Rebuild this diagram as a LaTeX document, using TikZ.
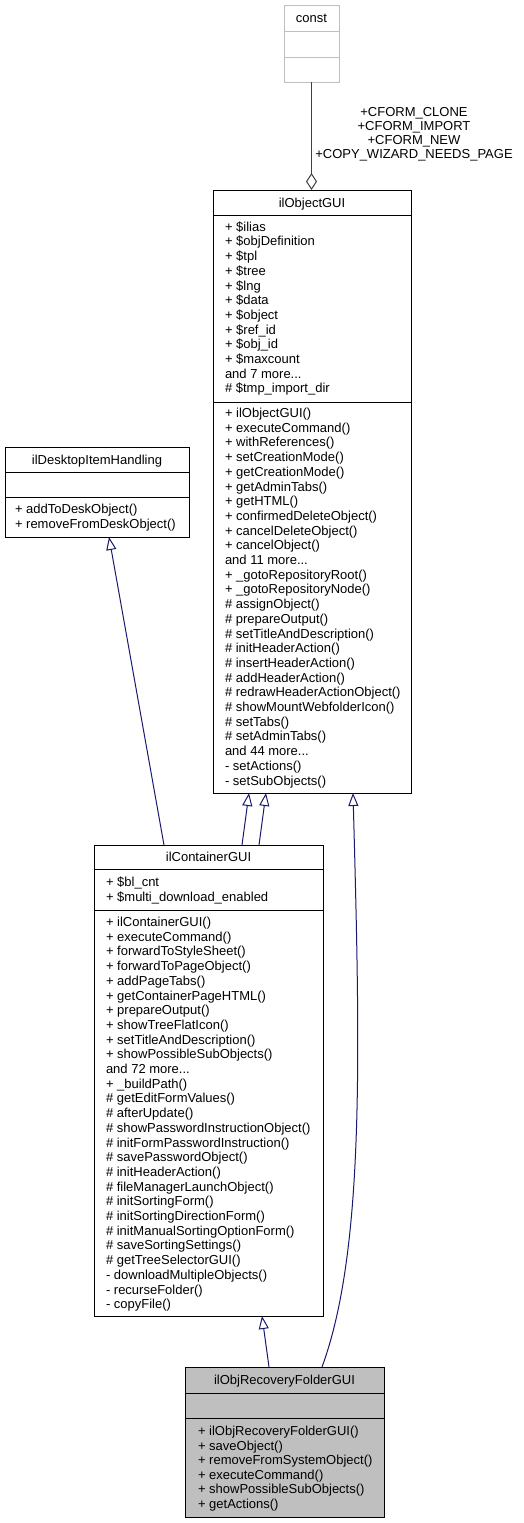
\documentclass[tikz,border=0pt]{standalone}
\usepackage{fontspec}
\setmainfont{Liberation Sans}
\usetikzlibrary{arrows.meta}
\definecolor{edgeblue}{HTML}{191970}
\definecolor{constgray}{HTML}{BFBFBF}
\definecolor{compgray}{HTML}{404040}
\definecolor{hlgray}{HTML}{BFBFBF}
\tikzset{
  clsbox/.style={draw=black, line width=1pt, inner sep=0pt, outer sep=0pt, anchor=north west},
  clsline/.style={draw=black, line width=1pt},
  member/.style={anchor=base west, inner sep=0pt, outer sep=0pt, font=\fontsize{13}{14.7}\selectfont},
  ctitle/.style={anchor=base, inner sep=0pt, outer sep=0pt, font=\fontsize{13}{14.7}\selectfont},
  inh/.style={draw=edgeblue, line width=1pt, -{Triangle[open, length=13pt, width=10pt, fill=white]}},
  comp/.style={draw=compgray, line width=1pt, -{Diamond[open, length=17pt, width=11pt, fill=white]}},
}
\newcommand\divline[3][black]{\draw[line width=1pt, draw=#1] ([yshift=-#3pt]#2.north west) -- ([yshift=-#3pt]#2.north east);}
\newcommand\members[5]{\foreach \t [count=\i from 0] in {#5} {\node[member] (#1\i) at (#2, #3+\i*#4) {\t};}}
\begin{document}
\begin{tikzpicture}[x=1pt, y=-1pt]
\useasboundingbox[fill=white] (0,0) rectangle (523,1523);

% const
\node[clsbox, draw=constgray, minimum width=55pt, minimum height=77pt] (const) at (284,5) {};
\divline[constgray]{const}{26}
\divline[constgray]{const}{52}
\node[ctitle] (const-t) at (311.5,22.5) {const};

% ilObjectGUI
\node[clsbox, minimum width=198pt, minimum height=603pt] (objgui) at (213,190) {};
\divline{objgui}{25}
\divline{objgui}{212}
\node[ctitle] (objgui-t) at (312,207) {ilObjectGUI};
\members{oga}{225}{231.2}{14.7}{+ \$ilias, + \$objDefinition, + \$tpl, + \$tree, + \$lng, + \$data, + \$object, + \$ref\_id, + \$obj\_id, + \$maxcount, and 7 more.{}.{}., \# \$tmp\_import\_dir}
\members{ogm}{225}{417.5}{14.7}{+ ilObjectGUI(), + executeCommand(), + withReferences(), + setCreationMode(), + getCreationMode(), + getAdminTabs(), + getHTML(), + confirmedDeleteObject(), + cancelDeleteObject(), + cancelObject(), and 11 more.{}.{}., + \_gotoRepositoryRoot(), + \_gotoRepositoryNode(), \# assignObject(), \# prepareOutput(), \# setTitleAndDescription(), \# initHeaderAction(), \# insertHeaderAction(), \# addHeaderAction(), \# redrawHeaderActionObject(), \# showMountWebfolderIcon(), \# setTabs(), \# setAdminTabs(), and 44 more.{}.{}., - setActions(), - setSubObjects()}

% ilDesktopItemHandling
\node[clsbox, minimum width=184pt, minimum height=90pt] (desk) at (5,447) {};
\divline{desk}{25}
\divline{desk}{50}
\node[ctitle] (desk-t) at (97,464.5) {ilDesktopItemHandling};
\members{dm}{15}{513.5}{14.7}{+ addToDeskObject(), + removeFromDeskObject()}

% ilContainerGUI
\node[clsbox, minimum width=229pt, minimum height=471pt] (cont) at (94,845) {};
\divline{cont}{24}
\divline{cont}{65}
\node[ctitle] (cont-t) at (208.5,861.5) {ilContainerGUI};
\members{ca}{106}{886.5}{14.7}{+ \$bl\_cnt, + \$multi\_download\_enabled}
\members{cm}{106}{926.5}{14.7}{+ ilContainerGUI(), + executeCommand(), + forwardToStyleSheet(), + forwardToPageObject(), + addPageTabs(), + getContainerPageHTML(), + prepareOutput(), + showTreeFlatIcon(), + setTitleAndDescription(), + showPossibleSubObjects(), and 72 more.{}.{}., + \_buildPath(), \# getEditFormValues(), \# afterUpdate(), \# showPasswordInstructionObject(), \# initFormPasswordInstruction(), \# savePasswordObject(), \# initHeaderAction(), \# fileManagerLaunchObject(), \# initSortingForm(), \# initSortingDirectionForm(), \# initManualSortingOptionForm(), \# saveSortingSettings(), \# getTreeSelectorGUI(), - downloadMultipleObjects(), - recurseFolder(), - copyFile()}

% ilObjRecoveryFolderGUI
\node[clsbox, fill=hlgray, minimum width=199pt, minimum height=150pt] (objrec) at (185,1367) {};
\divline{objrec}{26}
\divline{objrec}{51}
\node[ctitle] (objrec-t) at (284.5,1384.5) {ilObjRecoveryFolderGUI};
\members{rm}{198}{1435.5}{14.5}{+ ilObjRecoveryFolderGUI(), + saveObject(), + removeFromSystemObject(), + executeCommand(), + showPossibleSubObjects(), + getActions()}

% connectors
\draw[comp] (const.south) -- (const.south |- objgui.north);
\node[ctitle, anchor=center, align=center, font=\fontsize{13}{14.1}\selectfont] (lbl) at (414,134.5) {+CFORM\_CLONE\\+CFORM\_IMPORT\\+CFORM\_NEW\\+COPY\_WIZARD\_NEEDS\_PAGE};
\draw[inh] ([xshift=70pt]cont.north west) -- ([xshift=104pt]desk.south west);
\draw[inh] ([xshift=148pt]cont.north west) -- ([xshift=36pt]objgui.south west);
\draw[inh] ([xshift=165pt]cont.north west) -- ([xshift=53pt]objgui.south west);
\draw[inh] ([xshift=137pt]objrec.north west) .. controls (365,1250) and (360,1050) .. ([xshift=140pt]objgui.south west);
\draw[inh] ([xshift=84pt]objrec.north west) -- ([xshift=168pt]cont.south west);
\end{tikzpicture}
\end{document}
